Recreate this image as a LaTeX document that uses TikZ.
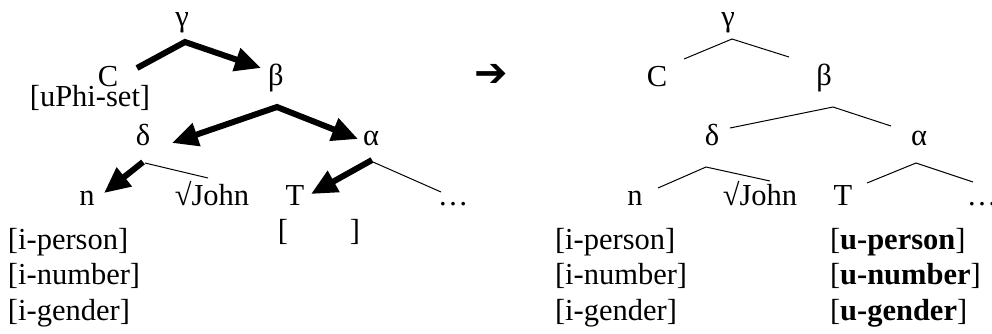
\documentclass[tikz,border=0pt]{standalone}
\usepackage{fontspec}
\setmainfont{Liberation Serif}
\newfontfamily\symfont{DejaVu Sans}
\usetikzlibrary{arrows.meta}
\begin{document}
\begin{tikzpicture}[x=1pt,y=-1pt,
  lbl/.style={inner sep=0pt,outer sep=0pt,anchor=base,font=\fontsize{30.5}{36}\selectfont},
  lbll/.style={lbl,anchor=base west},
  thick arrow/.style={line width=6pt,line cap=butt,line join=miter,-{Triangle[length=26pt,width=23pt]}},
  thick both/.style={line width=6pt,line cap=butt,line join=miter,{Triangle[length=26pt,width=23pt]}-{Triangle[length=26pt,width=23pt]}},
  thin/.style={line width=1pt}]
\useasboundingbox (0,0) rectangle (992,333);
% ---------- left tree ----------
\node[lbl] (Lg) at (182,26) {γ};
\node[lbl] (LC) at (108,86) {C};
\node[lbl] (Lphi) at (90,106) {[uPhi-set]};
\node[lbl] (Lb) at (276,85) {β};
\node[lbl] (Ld) at (143,145) {δ};
\node[lbl] (La) at (371,145) {α};
\node[lbl] (Ln) at (87,205) {n};
\node[lbl] (LJ) at (212,205) {√John};
\node[lbl] (LT) at (295,205) {T};
\node[lbl] (Ldots) at (453,205) {…};
\node[lbl] (Lempty) at (319,240) {[\hspace*{62pt}]};
\node[lbll] (Lp) at (8,249) {[i-person]};
\node[lbll] (Lnum) at (8,284) {[i-number]};
\node[lbll] (Lgen) at (8,320) {[i-gender]};
\coordinate (g1) at (137,68);
\coordinate (g0) at (185,42);
\coordinate (g2) at (261,68);
\coordinate (b1) at (172,143);
\coordinate (b0) at (277,107);
\coordinate (b2) at (358,139);
\coordinate (d0) at (143,162);
\coordinate (d1) at (104,193);
\coordinate (d0t) at (145,163);
\coordinate (d2) at (208,178);
\coordinate (a0) at (372,160);
\coordinate (a1) at (311,194);
\coordinate (a0t) at (373,162);
\coordinate (a2) at (441,192);
\draw[thick arrow] (g1) -- (g0) -- (g2);
\draw[thick both] (b1) -- (b0) -- (b2);
\draw[thick arrow] (d0) -- (d1);
\draw[thin] (d0t) -- (d2);
\draw[thick arrow] (a0) -- (a1);
\draw[thin] (a0t) -- (a2);
% ---------- arrow between ----------
\node[inner sep=0pt,font=\symfont\fontsize{40}{44}\selectfont] (mid) at (491,75) {➔};
% ---------- right tree ----------
\node[lbl] (Rg) at (728,26) {γ};
\node[lbl] (RC) at (657,86) {C};
\node[lbl] (Rb) at (824,85) {β};
\node[lbl] (Rd) at (712,145) {δ};
\node[lbl] (Ra) at (919,145) {α};
\node[lbl] (Rn) at (635,205) {n};
\node[lbl] (RJ) at (760,205) {√John};
\node[lbl] (RT) at (843,205) {T};
\node[lbl] (Rdots) at (982,205) {…};
\node[lbll] (Rp) at (555,249) {[i-person]};
\node[lbll] (Rnum) at (555,284) {[i-number]};
\node[lbll] (Rgen) at (555,320) {[i-gender]};
\node[lbll] (Up) at (830,249) {[\textbf{u-person}]};
\node[lbll] (Unum) at (830,284) {[\textbf{u-number}]};
\node[lbll] (Ugen) at (830,320) {[\textbf{u-gender}]};
\coordinate (rg1) at (684,59);
\coordinate (rg0) at (732,39);
\coordinate (rg2) at (789,57);
\coordinate (rb1) at (730,128);
\coordinate (rb0) at (833,107);
\coordinate (rb2) at (891,126);
\coordinate (rd1) at (658,188);
\coordinate (rd0) at (706,167);
\coordinate (rd2) at (770,181);
\coordinate (ra1) at (867,183);
\coordinate (ra0) at (916,163);
\coordinate (ra2) at (973,182);
\draw[thin] (rg1) -- (rg0) -- (rg2);
\draw[thin] (rb1) -- (rb0) -- (rb2);
\draw[thin] (rd1) -- (rd0) -- (rd2);
\draw[thin] (ra1) -- (ra0) -- (ra2);
\end{tikzpicture}
\end{document}
